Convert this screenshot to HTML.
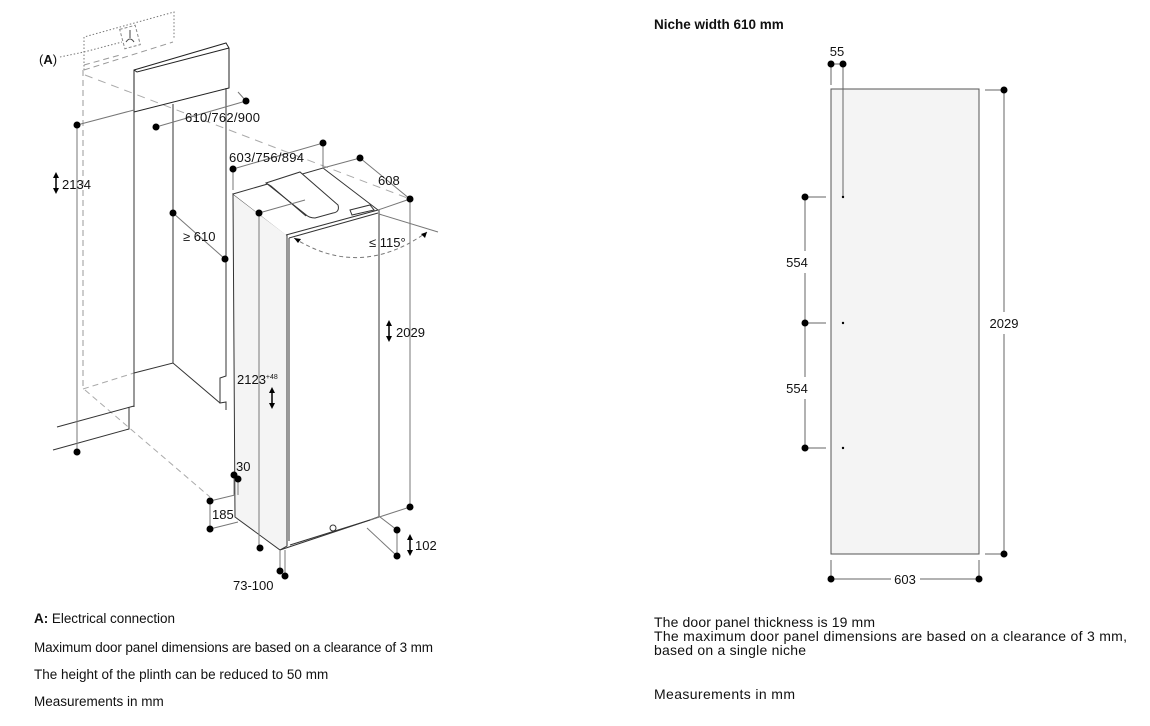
<!DOCTYPE html>
<html><head><meta charset="utf-8"><style>
html,body{margin:0;padding:0;background:#fff;}
svg{display:block}
text{font-family:"Liberation Sans",sans-serif;fill:#111}
</style></head><body>
<svg width="1150" height="726" viewBox="0 0 1150 726" xmlns="http://www.w3.org/2000/svg">
<g stroke="#333" stroke-width="1" fill="none">
 <path d="M84 70 V37 L174 12 V38" stroke-dasharray="1.5,2" stroke="#777"/>
 <path d="M60 57 L84 52 L122 42" stroke-dasharray="1.5,2" stroke="#777"/>
 <rect x="122" y="27" width="16" height="20" stroke-dasharray="3,2" stroke="#888" transform="rotate(-15 130 37)"/>
 <path d="M126 42 q4 -6 8 0 M130 38 v-8" stroke="#444"/>
 <path d="M84 70 L173 42 M84 65 L120 55" stroke-dasharray="6,4" stroke="#999"/>
 <path d="M83 70 V389" stroke-dasharray="6,4" stroke="#999"/>
 <path d="M85 75 L410 199" stroke-dasharray="8,6" stroke="#aaa"/>
 <path d="M85 390 L210 497" stroke-dasharray="6,4" stroke="#aaa"/>
 <path d="M83 389 L134 373" stroke-dasharray="6,4" stroke="#aaa"/>
 <path d="M134 70 L226 43 L229 48 L229 88 L134 112 Z M134 70 L137 72 L229 48" stroke="#222"/>
 <path d="M134 112 V407 M173 104 V363 M226 88 V376 L220 378 V403 L226 402 V410" stroke="#333"/>
 <path d="M134 373 L173 363 L220 403" />
 <path d="M57 427 L134 406 M53 450 L129 429 V407" />
 <path d="M77 125 V452 M77 125 L134 110" stroke="#777"/>
 <path d="M233 194 L287 235 V546 L280 550 L235 517 Z" fill="#f4f4f4"/>
 <path d="M233 194 L323 168 L378 210 L286 235" fill="#fff"/>
 <path d="M289 238 L378 213 M289 238 V541" />
 <path d="M379 210 V517 L370 520 L290 545" />
 <path d="M280 550 L370 520 M280 550 V558" />
 <path d="M370 520 L378 517" />
 <path d="M266 183 L300 172 L338 205 Q340 212 333 213 L315 218 Q309 218 305 214 Z" fill="#fff"/>
 <path d="M266 183 L271 186 L306 216" />
 <path d="M350 210 L370 205 L374 210 L352 215 Z" fill="#fff"/>
 <path d="M156 127 L246 101 M246 101 L238 92" stroke="#777"/>
 <path d="M233 169 L323 143 V168 M233 169 V190" stroke="#777"/>
 <path d="M360 158 L410 199 M323 168 L360 158 M378 210 L410 199" stroke="#777"/>
 <path d="M173 213 L225 259" stroke="#777"/>
 <path d="M259 213 L305 200" stroke="#777"/>
 <path d="M410 199 V507 M370 520 L410 507" stroke="#777"/>
 <path d="M379 214 L438 232" stroke="#777"/>
 <path d="M294 238 Q360 280 427 232" stroke-dasharray="4,3" stroke="#777"/>
 <path d="M259 213 V548" stroke="#777"/>
 <path d="M234 475 L234 495 M238 479 L238 495" stroke="#777"/>
 <path d="M210 501 V529 M210 501 L235 495 M210 529 L238 522" stroke="#777"/>
 <path d="M380 517 L397 530 V556 L367 528" stroke="#777"/>
 <path d="M280 550 V571 M285 550 V576" stroke="#777"/>
 <circle cx="333" cy="528" r="3"/>
 <rect x="831" y="89" width="148" height="465" fill="#f4f4f4" stroke="#555"/>
 <path d="M831 64 H843 M831 64 V85 M843 64 V197 M985 90 H1004 V312 M1004 334 V554 M985 554 H1004 M805 197 V251 M805 273 V377 M805 399 V448 M805 197 H826 M805 323 H826 M805 448 H826 M831 579 H891 M920 579 H979 M831 560 V579 M979 560 V579" stroke="#666"/>
</g>
<g fill="#000">
 <circle cx="77" cy="125" r="3.5"/><circle cx="77" cy="452" r="3.5"/>
 <circle cx="156" cy="127" r="3.5"/><circle cx="246" cy="101" r="3.5"/>
 <circle cx="233" cy="169" r="3.5"/><circle cx="323" cy="143" r="3.5"/>
 <circle cx="360" cy="158" r="3.5"/><circle cx="410" cy="199" r="3.5"/>
 <circle cx="173" cy="213" r="3.5"/><circle cx="225" cy="259" r="3.5"/>
 <circle cx="259" cy="213" r="3.5"/><circle cx="410" cy="507" r="3.5"/>
 <circle cx="260" cy="548" r="3.5"/><circle cx="234" cy="475" r="3.5"/><circle cx="238" cy="479" r="3.5"/>
 <circle cx="210" cy="501" r="3.5"/><circle cx="210" cy="529" r="3.5"/>
 <circle cx="397" cy="530" r="3.5"/><circle cx="397" cy="556" r="3.5"/>
 <circle cx="280" cy="571" r="3.5"/><circle cx="285" cy="576" r="3.5"/>
 <circle cx="831" cy="64" r="3.5"/><circle cx="843" cy="64" r="3.5"/>
 <circle cx="1004" cy="90" r="3.5"/><circle cx="1004" cy="554" r="3.5"/>
 <circle cx="805" cy="197" r="3.5"/><circle cx="805" cy="323" r="3.5"/><circle cx="805" cy="448" r="3.5"/>
 <circle cx="831" cy="579" r="3.5"/><circle cx="979" cy="579" r="3.5"/>
 <circle cx="843" cy="197" r="1.2"/><circle cx="843" cy="323" r="1.2"/><circle cx="843" cy="448" r="1.2"/>
 <path d="M56 172 l-3 6 h6 z M56 194 l-3 -6 h6 z"/><path d="M56 176 V190" stroke="#000" stroke-width="1.5"/>
 <path d="M389 320 l-3 6 h6 z M389 342 l-3 -6 h6 z"/><path d="M389 324 V338" stroke="#000" stroke-width="1.5"/>
 <path d="M272 387 l-3 6 h6 z M272 409 l-3 -6 h6 z"/><path d="M272 391 V405" stroke="#000" stroke-width="1.5"/>
 <path d="M410 534 l-3 6 h6 z M410 556 l-3 -6 h6 z"/><path d="M410 538 V552" stroke="#000" stroke-width="1.5"/>
 <path d="M294 238 l7 1 l-3 4 z M427 232 l-6 2 l4 4 z"/>
</g>
<g font-size="13">
 <text x="39" y="64">(<tspan font-weight="bold">A</tspan>)</text>
 <text x="62" y="189">2134</text>
 <text x="185" y="122" textLength="75">610/762/900</text>
 <text x="229" y="162" textLength="75">603/756/894</text>
 <text x="378" y="185">608</text>
 <text x="183" y="241">≥ 610</text>
 <text x="369" y="247">≤ 115°</text>
 <text x="396" y="337">2029</text>
 <text x="237" y="384">2123<tspan font-size="7" dy="-5">+48</tspan></text>
 <text x="236" y="471">30</text>
 <text x="212" y="519">185</text>
 <text x="415" y="550">102</text>
 <text x="233" y="590">73-100</text>
 <text x="837" y="56" text-anchor="middle">55</text>
 <text x="797" y="267" text-anchor="middle">554</text>
 <text x="797" y="393" text-anchor="middle">554</text>
 <text x="1004" y="328" text-anchor="middle">2029</text>
 <text x="905" y="584" text-anchor="middle">603</text>
</g>
<g font-size="13.5">
 <text x="34" y="623" textLength="141"><tspan font-weight="bold">A:</tspan> Electrical connection</text>
 <text x="34" y="652" textLength="399">Maximum door panel dimensions are based on a clearance of 3 mm</text>
 <text x="34" y="679">The height of the plinth can be reduced to 50 mm</text>
 <text x="34" y="706">Measurements in mm</text>
</g>
<g font-size="14">
 <text x="654" y="627" textLength="221">The door panel thickness is 19 mm</text>
 <text x="654" y="641" textLength="473">The maximum door panel dimensions are based on a clearance of 3 mm,</text>
 <text x="654" y="655" textLength="152">based on a single niche</text>
 <text x="654" y="699" textLength="141">Measurements in mm</text>
</g>
<text x="654" y="29" font-size="13.5" font-weight="bold">Niche width 610 mm</text>
</svg>
</body></html>
